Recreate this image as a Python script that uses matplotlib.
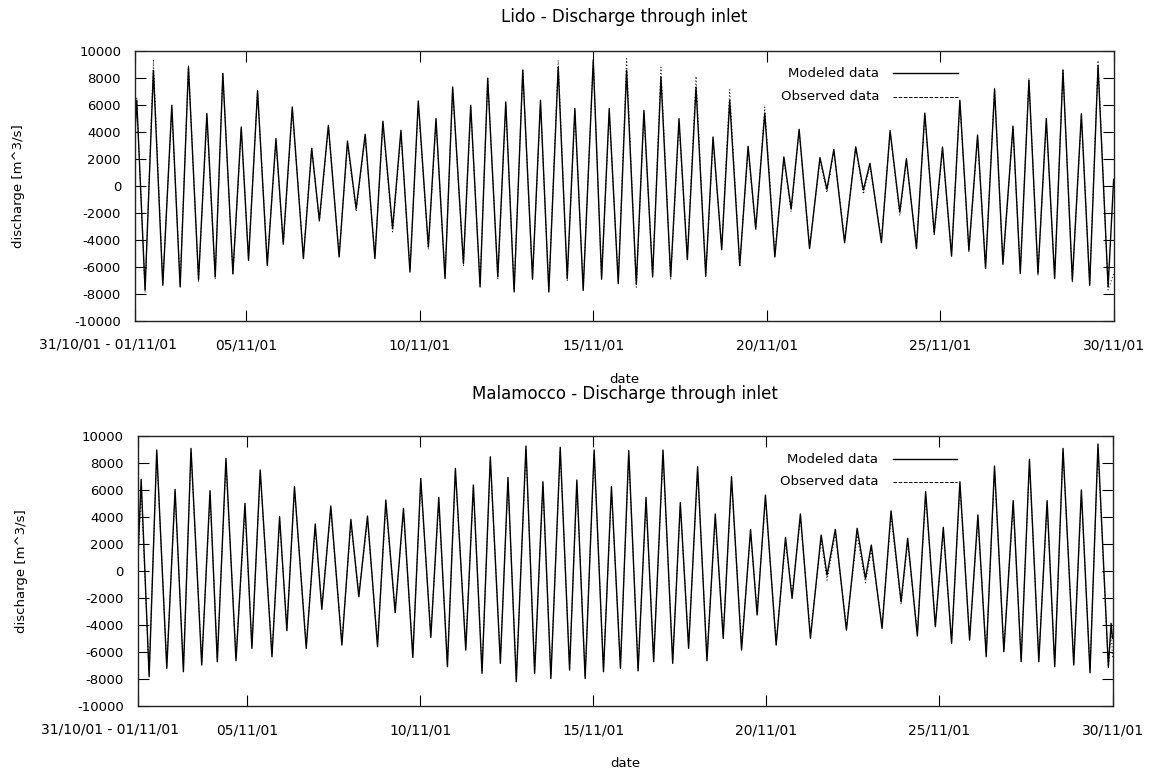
import numpy as np
import matplotlib
matplotlib.use("Agg")
import matplotlib.pyplot as plt

plt.rcParams["font.family"] = ["DejaVu Sans"]
plt.rcParams["axes.unicode_minus"] = False

# ── Data (day of November 2001, discharge m^3/s) ─
lido_day = [1.80, 1.85, 2.09, 2.33, 2.60, 2.86, 3.10, 3.34, 3.63, 3.87,
            4.11, 4.33, 4.62, 4.86, 5.07, 5.33, 5.61, 5.86, 6.07, 6.33,
            6.65, 6.89, 7.11, 7.37, 7.68, 7.92, 8.17, 8.43, 8.71, 8.94,
            9.22, 9.46, 9.72, 9.96, 10.25, 10.47, 10.73, 10.95, 11.26, 11.47,
            11.74, 11.96, 12.25, 12.48, 12.72, 12.97, 13.25, 13.48, 13.72, 13.99,
            14.25, 14.47, 14.71, 15.00, 15.24, 15.46, 15.72, 15.96, 16.24, 16.46,
            16.71, 16.95, 17.23, 17.47, 17.71, 17.96, 18.24, 18.45, 18.70, 18.93,
            19.22, 19.46, 19.68, 19.94, 20.23, 20.49, 20.70, 20.93, 21.23, 21.53,
            21.73, 21.93, 22.24, 22.56, 22.78, 22.97, 23.30, 23.55, 23.83, 24.02,
            24.31, 24.55, 24.82, 25.06, 25.32, 25.56, 25.82, 26.07, 26.30, 26.56,
            26.80, 27.09, 27.30, 27.55, 27.81, 28.05, 28.29, 28.53, 28.80, 29.06,
            29.30, 29.54, 29.83, 29.99]
lido_mod = [4000, 6350, -7700, 8570, -7360, 5980, -7480, 8810, -6940, 5360,
            -6740, 8320, -6490, 4370, -5510, 7040, -5880, 3510, -4270, 5850,
            -5380, 2770, -2540, 4490, -5260, 3330, -1680, 3830, -5380, 4800,
            -3160, 4120, -6370, 6300, -4520, 4990, -6860, 7330, -5750, 5980,
            -7480, 7950, -6740, 6220, -7850, 8570, -6860, 6350, -7850, 8810,
            -6860, 5730, -7730, 9310, -6860, 5730, -7230, 8570, -7300, 5600,
            -6740, 8070, -6740, 4990, -5460, 7330, -6620, 3630, -4720, 6350,
            -5880, 2940, -3160, 5400, -5260, 2150, -1700, 4200, -4640, 2100,
            -250, 2700, -4200, 2900, -300, 1680, -4200, 4100, -1930, 2020,
            -4640, 5400, -3500, 2890, -5200, 6350, -4770, 3780, -6120, 7150,
            -5750, 4430, -6490, 7830, -6490, 5000, -6860, 8550, -6990, 5350,
            -7360, 8900, -7480, 500]
lido_obs = [3800, 6500, -7900, 9360, -7200, 5700, -7300, 8990, -7050, 5100,
            -6900, 8400, -6600, 4200, -5400, 7140, -5700, 3300, -4400, 5700,
            -5200, 2900, -2700, 4400, -5100, 3100, -1900, 3700, -5200, 4600,
            -3400, 3900, -6200, 6100, -4700, 4800, -6700, 7200, -5900, 5800,
            -7300, 8100, -6900, 6000, -7700, 8690, -7000, 6100, -7700, 9310,
            -7000, 5500, -7600, 9360, -7000, 5500, -7100, 9430, -7500, 5400,
            -6600, 8810, -6900, 4700, -5300, 8120, -6800, 3400, -4600, 7140,
            -6000, 2800, -3300, 5850, -5100, 2000, -1900, 4100, -4500, 1900,
            -500, 2600, -4000, 2800, -600, 1500, -4000, 4000, -2200, 1900,
            -4500, 5300, -3700, 2700, -5100, 6200, -4900, 3600, -6000, 7300,
            -5900, 4300, -6300, 8000, -6600, 4800, -6700, 8700, -7100, 5200,
            -7200, 9300, -7700, -6500]

malamocco_day = [1.83, 1.93, 2.16, 2.38, 2.67, 2.91, 3.15, 3.37, 3.68, 3.92,
                 4.13, 4.38, 4.67, 4.93, 5.13, 5.37, 5.71, 5.93, 6.14, 6.36,
                 6.70, 6.96, 7.15, 7.41, 7.73, 7.99, 8.22, 8.47, 8.76, 9.00,
                 9.27, 9.51, 9.78, 10.01, 10.30, 10.53, 10.78, 11.01, 11.31, 11.53,
                 11.78, 12.02, 12.31, 12.53, 12.77, 13.05, 13.30, 13.54, 13.77, 14.04,
                 14.31, 14.52, 14.76, 15.02, 15.29, 15.52, 15.78, 16.02, 16.29, 16.52,
                 16.74, 17.01, 17.29, 17.51, 17.75, 18.01, 18.28, 18.52, 18.75, 18.99,
                 19.28, 19.54, 19.73, 19.97, 20.28, 20.55, 20.74, 20.98, 21.27, 21.58,
                 21.75, 21.99, 22.31, 22.62, 22.86, 23.03, 23.34, 23.60, 23.89, 24.08,
                 24.36, 24.60, 24.88, 25.11, 25.35, 25.59, 25.87, 26.11, 26.35, 26.59,
                 26.86, 27.13, 27.36, 27.60, 27.87, 28.11, 28.33, 28.57, 28.88, 29.10,
                 29.35, 29.58, 29.88, 29.96, 30.00]
malamocco_mod = [500, 6770, -7850, 8940, -7230, 6020, -7480, 9060, -6990, 5930,
                 -6740, 8320, -6670, 4990, -5750, 7460, -6370, 4000, -4440, 6220,
                 -5750, 3460, -2860, 4790, -5510, 3800, -1930, 4050, -5630, 5230,
                 -3110, 4620, -6420, 6840, -4940, 5430, -7110, 7580, -5880, 6350,
                 -7600, 8440, -6860, 6910, -8220, 9230, -7600, 6590, -7980, 9140,
                 -7360, 6720, -7980, 8940, -7480, 6220, -7230, 8890, -7420, 5430,
                 -6740, 8940, -6860, 5040, -5750, 7700, -6670, 4200, -5010, 6960,
                 -5880, 3060, -3280, 5600, -5510, 2470, -2050, 4200, -5010, 2640,
                 -320, 3060, -4400, 3140, -570, 1900, -4270, 4430, -2300, 2400,
                 -4840, 5850, -4150, 3210, -5380, 6590, -5140, 4120, -6370, 7750,
                 -6000, 5190, -6740, 8250, -6740, 5190, -7110, 9060, -6990, 5980,
                 -7560, 9380, -7110, -3900, -5000]
malamocco_obs = [200, 6000, -7600, 8700, -7000, 5800, -7300, 8800, -6800, 5600,
                 -6500, 8000, -6400, 4500, -5600, 7200, -6100, 3700, -4200, 6000,
                 -5500, 3100, -2600, 4500, -5300, 3500, -1700, 3700, -5400, 4800,
                 -2900, 4300, -6200, 6500, -4700, 5100, -6900, 7300, -5600, 6100,
                 -7400, 8200, -6600, 6600, -8000, 9000, -7400, 6300, -7700, 8900,
                 -7100, 6400, -7800, 8700, -7300, 5900, -7000, 8600, -7200, 5100,
                 -6500, 8500, -6600, 4800, -5500, 7400, -6400, 3900, -4800, 6700,
                 -5600, 2800, -3000, 5300, -5300, 2100, -1700, 3900, -4700, 2300,
                 -700, 2700, -4100, 2600, -900, 1500, -4000, 4000, -2500, 2100,
                 -4600, 5500, -4000, 2900, -5200, 6300, -4900, 3800, -6100, 7500,
                 -5800, 4900, -6500, 8000, -6500, 4900, -6900, 8800, -6800, 5700,
                 -7300, 9100, -7300, -4200, -6500]

tick_days   = [5, 10, 15, 20, 25, 30]
tick_labels = ["05/11/01", "10/11/01", "15/11/01", "20/11/01", "25/11/01", "30/11/01"]
first_label = "31/10/01 - 01/11/01"

panels = [
    # title, days, modeled, observed, axes rect, xlim, title y, key text x, key line x, key y
    ("Lido - Discharge through inlet", lido_day, lido_mod, lido_obs,
     [0.1174, 0.5826, 0.8513, 0.3511], (1.80, 29.99), 1.096,
     0.760, (0.774, 0.841), (0.917, 0.831)),
    ("Malamocco - Discharge through inlet", malamocco_day, malamocco_mod, malamocco_obs,
     [0.1196, 0.0823, 0.8478, 0.3511], (1.825, 30.0), 1.122,
     0.7595, (0.775, 0.840), (0.913, 0.830)),
]

fig = plt.figure(figsize=(11.5, 7.69), dpi=100)

for title, days, mod, obs, rect, xlim, ty, kx, klx, ky in panels:
    ax = fig.add_axes(rect)
    l_mod, = ax.plot(days, mod, color="black", lw=1.0, ls="-")
    l_obs, = ax.plot(days, obs, color="black", lw=0.7, ls=(0, (1, 2.4)))

    ax.set_xlim(*xlim)
    ax.set_ylim(-10000, 10000)
    ax.set_yticks(np.arange(-10000, 10001, 2000))
    ax.set_xticks([xlim[0]] + tick_days)
    ax.set_xticklabels([""] + tick_labels)
    # gnuplot puts the first (range) label a bit left of the corner
    ax.annotate(first_label, xy=(0, 0), xycoords="axes fraction",
                xytext=(-27.5, -24), textcoords="offset pixels",
                ha="center", va="center", fontsize=10)

    ax.tick_params(axis="both", direction="in", length=7.7, width=0.8,
                   top=True, right=True, labelsize=9.5, colors="black")
    ax.tick_params(axis="x", pad=12.5, labelsize=10)
    ax.tick_params(axis="y", pad=10)
    for sp in ax.spines.values():
        sp.set_linewidth(1.0)
        sp.set_color("#222222")

    ax.set_title(title, fontsize=12, y=ty, va="center")
    ax.set_xlabel("date", fontsize=9.5, va="center")
    ax.xaxis.set_label_coords(0.5, -0.215)
    ax.set_ylabel("discharge [m^3/s]", fontsize=9.5, va="center")
    ax.yaxis.set_label_coords(-0.119, 0.5)

    # gnuplot style key: right-aligned text, sample line to its right
    for (label, line), yy in zip([("Modeled data", l_mod), ("Observed data", l_obs)], ky):
        ax.text(kx, yy, label, transform=ax.transAxes, ha="right", va="center",
                fontsize=9.5)
        ax.plot(klx, [yy, yy], transform=ax.transAxes, color="black",
                lw=line.get_linewidth(), ls=line.get_linestyle())

fig.savefig("out.png", dpi=100, facecolor="white")
